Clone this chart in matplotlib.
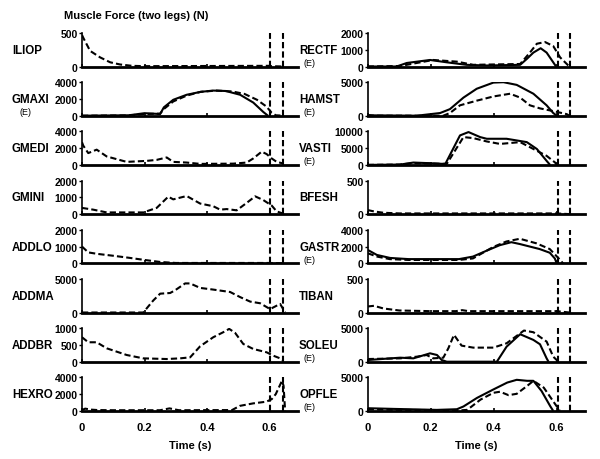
import matplotlib
matplotlib.use("Agg")
import matplotlib.pyplot as plt

plt.rcParams['font.family'] = ['Liberation Sans', 'DejaVu Sans']
plt.rcParams['font.weight'] = 'bold'

# ---------------- data (time in s, force in N) ----------------
ILIOP_t_d = [0, 0.005, 0.026, 0.058, 0.09, 0.122, 0.16, 0.2, 0.6, 0.605, 0.643]
ILIOP_d = [470, 420, 233, 136, 63, 30, 10, 5, 10, 5, 0]

GMAXI_t_s = [0, 0.15, 0.2, 0.25, 0.262, 0.292, 0.335, 0.38, 0.42, 0.46, 0.506, 0.548, 0.58, 0.595]
GMAXI_s = [0, 50, 300, 200, 1000, 1900, 2500, 2850, 3000, 2950, 2500, 1570, 450, 0]
GMAXI_t_d = [0, 0.15, 0.2, 0.25, 0.262, 0.292, 0.335, 0.38, 0.43, 0.48, 0.52, 0.56, 0.59, 0.607, 0.62, 0.645]
GMAXI_d = [0, 30, 200, 250, 800, 1700, 2400, 2850, 3000, 2900, 2600, 1900, 1100, 350, 50, 0]

GMEDI_t_d = [0, 0.004, 0.02, 0.047, 0.079, 0.143, 0.207, 0.239, 0.271, 0.292, 0.335, 0.378,
             0.484, 0.527, 0.548, 0.575, 0.591, 0.607, 0.623, 0.645]
GMEDI_d = [2700, 2300, 1410, 1820, 1010, 360, 480, 600, 890, 360, 280, 120,
           150, 280, 770, 1580, 1290, 770, 360, 160]

GMINI_t_d = [0, 0.036, 0.079, 0.196, 0.239, 0.276, 0.292, 0.335, 0.378, 0.42, 0.442, 0.463,
             0.495, 0.527, 0.554, 0.58, 0.607, 0.623, 0.639, 0.65]
GMINI_d = [370, 265, 100, 100, 370, 1040, 880, 1080, 630, 470, 265, 300,
           225, 670, 1060, 840, 510, 160, 60, 0]

ADDLO_t_d = [0, 0.02, 0.05, 0.1, 0.15, 0.2, 0.25, 0.3, 0.6, 0.645]
ADDLO_d = [1000, 650, 560, 450, 330, 200, 80, 20, 20, 0]

ADDMA_t_d = [0, 0.196, 0.228, 0.25, 0.282, 0.298, 0.33, 0.346, 0.378, 0.42, 0.474, 0.506,
             0.538, 0.57, 0.602, 0.623, 0.634, 0.645, 0.65]
ADDMA_d = [0, 0, 1790, 2810, 2910, 3320, 4340, 4340, 3670, 3420, 3060, 2300,
           1630, 1380, 510, 1020, 1280, 410, 0]

ADDBR_t_d = [0, 0.02, 0.047, 0.079, 0.143, 0.196, 0.271, 0.314, 0.346, 0.378, 0.42, 0.452,
             0.471, 0.49, 0.516, 0.548, 0.591, 0.612, 0.634, 0.645]
ADDBR_d = [730, 580, 580, 400, 200, 100, 80, 100, 130, 460, 730, 880,
           980, 860, 530, 380, 280, 180, 100, 30]

HEXRO_t_d = [0, 0.01, 0.03, 0.05, 0.1, 0.25, 0.28, 0.31, 0.48, 0.505, 0.548, 0.59,
             0.607, 0.62, 0.63, 0.64, 0.645, 0.65]
HEXRO_d = [100, 270, 150, 100, 80, 80, 300, 80, 100, 600, 900, 1100,
           1400, 2000, 2800, 3600, 3000, 0]

RECTF_t_s = [0, 0.092, 0.124, 0.198, 0.251, 0.314, 0.378, 0.484, 0.505, 0.526, 0.549, 0.568, 0.589, 0.598]
RECTF_s = [0, 0, 210, 390, 250, 100, 60, 100, 450, 830, 1090, 830, 250, 0]
RECTF_t_d = [0, 0.103, 0.208, 0.283, 0.335, 0.484, 0.515, 0.537, 0.563, 0.589, 0.611, 0.632, 0.64]
RECTF_d = [0, 30, 390, 290, 100, 150, 830, 1360, 1460, 1220, 540, 150, 0]

HAMST_t_s = [0, 0.02, 0.156, 0.23, 0.261, 0.304, 0.346, 0.399, 0.431, 0.473, 0.526, 0.568, 0.589, 0.6]
HAMST_s = [100, 50, 0, 400, 980, 2700, 4020, 4940, 5000, 4600, 3280, 1550, 400, 0]
HAMST_t_d = [0, 0.24, 0.261, 0.293, 0.346, 0.399, 0.452, 0.484, 0.515, 0.547, 0.589, 0.632, 0.64]
HAMST_d = [0, 0, 400, 1550, 2240, 2870, 3280, 2700, 1550, 1090, 690, 230, 0]

VASTI_t_s = [0, 0.103, 0.145, 0.2, 0.24, 0.247, 0.293, 0.32, 0.357, 0.378, 0.441, 0.505, 0.537, 0.568, 0.579]
VASTI_s = [0, 100, 700, 500, 300, 400, 8800, 9800, 8300, 7800, 7800, 6800, 4750, 1200, 0]
VASTI_t_d = [0, 0.1, 0.145, 0.2, 0.251, 0.304, 0.335, 0.378, 0.42, 0.484, 0.526, 0.568, 0.595, 0.6]
VASTI_d = [0, 100, 500, 400, 300, 8300, 8000, 7000, 6260, 6800, 4750, 2700, 700, 0]

BFESH_t_d = [0, 0.02, 0.05, 0.1, 0.6, 0.64]
BFESH_d = [60, 40, 20, 10, 10, 0]

GASTR_t_s = [0, 0.029, 0.071, 0.13, 0.29, 0.334, 0.376, 0.419, 0.456, 0.483, 0.546, 0.578, 0.594, 0.6]
GASTR_s = [1600, 1000, 640, 500, 500, 800, 1480, 2160, 2520, 2300, 1700, 1260, 580, 0]
GASTR_t_d = [0, 0.03, 0.07, 0.13, 0.29, 0.334, 0.398, 0.44, 0.483, 0.536, 0.578, 0.604, 0.62]
GASTR_d = [1200, 800, 500, 400, 400, 580, 1940, 2600, 2930, 2380, 1700, 680, 0]

TIBAN_t_d = [0, 0.02, 0.05, 0.1, 0.2, 0.28, 0.3, 0.32, 0.6, 0.64]
TIBAN_d = [90, 100, 60, 30, 20, 20, 35, 20, 20, 0]

SOLEU_t_s = [0, 0.103, 0.145, 0.198, 0.22, 0.235, 0.251, 0.41, 0.441, 0.484, 0.526, 0.547, 0.568, 0.574]
SOLEU_s = [250, 600, 500, 1250, 1000, 250, 0, 0, 2250, 4100, 3250, 2600, 500, 0]
SOLEU_t_d = [0, 0.103, 0.156, 0.187, 0.208, 0.24, 0.256, 0.274, 0.298, 0.335, 0.399, 0.441,
             0.496, 0.526, 0.568, 0.589, 0.6, 0.606]
SOLEU_d = [400, 500, 750, 1000, 500, 600, 2000, 4000, 2400, 2100, 2100, 2750,
           4650, 4400, 3000, 750, 250, 0]

OPFLE_t_s = [0, 0.081, 0.219, 0.283, 0.304, 0.347, 0.399, 0.443, 0.473, 0.506, 0.526, 0.552, 0.58, 0.589]
OPFLE_s = [400, 300, 150, 250, 660, 1940, 3200, 4230, 4640, 4490, 4490, 2960, 660, 0]
OPFLE_t_d = [0, 0.1, 0.3, 0.316, 0.358, 0.399, 0.42, 0.447, 0.473, 0.506, 0.526, 0.559, 0.589, 0.61]
OPFLE_d = [250, 150, 100, 150, 1680, 2700, 2860, 2350, 2550, 3720, 4490, 3470, 1430, 0]

left_names = ["ILIOP", "GMAXI", "GMEDI", "GMINI", "ADDLO", "ADDMA", "ADDBR", "HEXRO"]
right_names = ["RECTF", "HAMST", "VASTI", "BFESH", "GASTR", "TIBAN", "SOLEU", "OPFLE"]
left_E = [False, True, False, False, False, False, False, False]
right_E = [True, True, True, False, True, False, True, True]
left_yticks = [[0, 500], [0, 2000, 4000], [0, 2000, 4000], [0, 1000, 2000],
               [0, 1000, 2000], [0, 5000], [0, 500, 1000], [0, 2000, 4000]]
right_yticks = [[0, 1000, 2000], [0, 5000], [0, 5000, 10000], [0, 500],
                [0, 2000, 4000], [0, 500], [0, 5000], [0, 5000]]
left_solid = [None, (GMAXI_t_s, GMAXI_s), None, None, None, None, None, None]
left_dash = [(ILIOP_t_d, ILIOP_d), (GMAXI_t_d, GMAXI_d), (GMEDI_t_d, GMEDI_d), (GMINI_t_d, GMINI_d),
             (ADDLO_t_d, ADDLO_d), (ADDMA_t_d, ADDMA_d), (ADDBR_t_d, ADDBR_d), (HEXRO_t_d, HEXRO_d)]
right_solid = [(RECTF_t_s, RECTF_s), (HAMST_t_s, HAMST_s), (VASTI_t_s, VASTI_s), None,
               (GASTR_t_s, GASTR_s), None, (SOLEU_t_s, SOLEU_s), (OPFLE_t_s, OPFLE_s)]
right_dash = [(RECTF_t_d, RECTF_d), (HAMST_t_d, HAMST_d), (VASTI_t_d, VASTI_d), (BFESH_t_d, BFESH_d),
              (GASTR_t_d, GASTR_d), (TIBAN_t_d, TIBAN_d), (SOLEU_t_d, SOLEU_d), (OPFLE_t_d, OPFLE_d)]
event_times = [0.603, 0.643]
xticks = [0, 0.2, 0.4, 0.6]
xtick_labels = ["0", "0.2", "0.4", "0.6"]

# ---------------- layout ----------------
W, H = 600, 460
fig = plt.figure(figsize=(6, 4.6), dpi=100)
TOP0, PITCH, AH = 34, 49.2, 33.5
XMAX = 0.69
DASH = (0, (3, 1.5))

def make_col(x0, pxw, names, Es, yticks, solids, dashes, name_x, e_x):
    for i in range(8):
        top = TOP0 + PITCH * i
        ax = fig.add_axes([x0 / W, 1 - (top + AH) / H, pxw / W, AH / H])
        ymax = yticks[i][-1]
        if solids[i] is not None:
            ax.plot(solids[i][0], solids[i][1], color='black', lw=1.5, solid_capstyle='butt')
        ax.plot(dashes[i][0], dashes[i][1], color='black', lw=1.5, linestyle=DASH)
        for et in event_times:
            ax.axvline(et, color='black', lw=1.5, linestyle=DASH)
        ax.set_xlim(0, XMAX)
        ax.set_ylim(0, ymax)
        ax.set_yticks(yticks[i])
        ax.set_yticklabels([str(v) for v in yticks[i]])
        ax.set_xticks(xticks)
        for s in ['top', 'right']:
            ax.spines[s].set_visible(False)
        ax.spines['bottom'].set_linewidth(2.0)
        ax.spines['left'].set_linewidth(1.2)
        ax.tick_params(axis='y', direction='out', length=2, width=1, pad=1,
                       labelsize=7.5)
        ax.tick_params(axis='x', direction='in', length=2, width=1.2, pad=8,
                       labelsize=8)
        for lab in ax.get_yticklabels() + ax.get_xticklabels():
            lab.set_fontweight('bold')
        if i == 7:
            ax.set_xticklabels(xtick_labels)
            ax.set_xlabel("Time (s)", fontsize=8, fontweight='bold', labelpad=6)
        else:
            ax.set_xticklabels([])
        ymid = top + AH / 2
        fig.text(name_x / W, 1 - ymid / H, names[i], fontsize=8.3, fontweight='bold',
                 ha='left', va='center')
        if Es[i]:
            fig.text(e_x / W, 1 - (ymid + 12.5) / H, "(E)", fontsize=6.5, fontweight='normal',
                     ha='left', va='center')

make_col(82, XMAX * 312.5, left_names, left_E, left_yticks, left_solid, left_dash, 12, 20)
make_col(367.7, XMAX * 315, right_names, right_E, right_yticks, right_solid, right_dash, 299, 303)

fig.text(64 / W, 1 - 16 / H, "Muscle Force (two legs) (N)", fontsize=8, fontweight='bold',
         ha='left', va='center')

fig.savefig("out.png", dpi=100)
